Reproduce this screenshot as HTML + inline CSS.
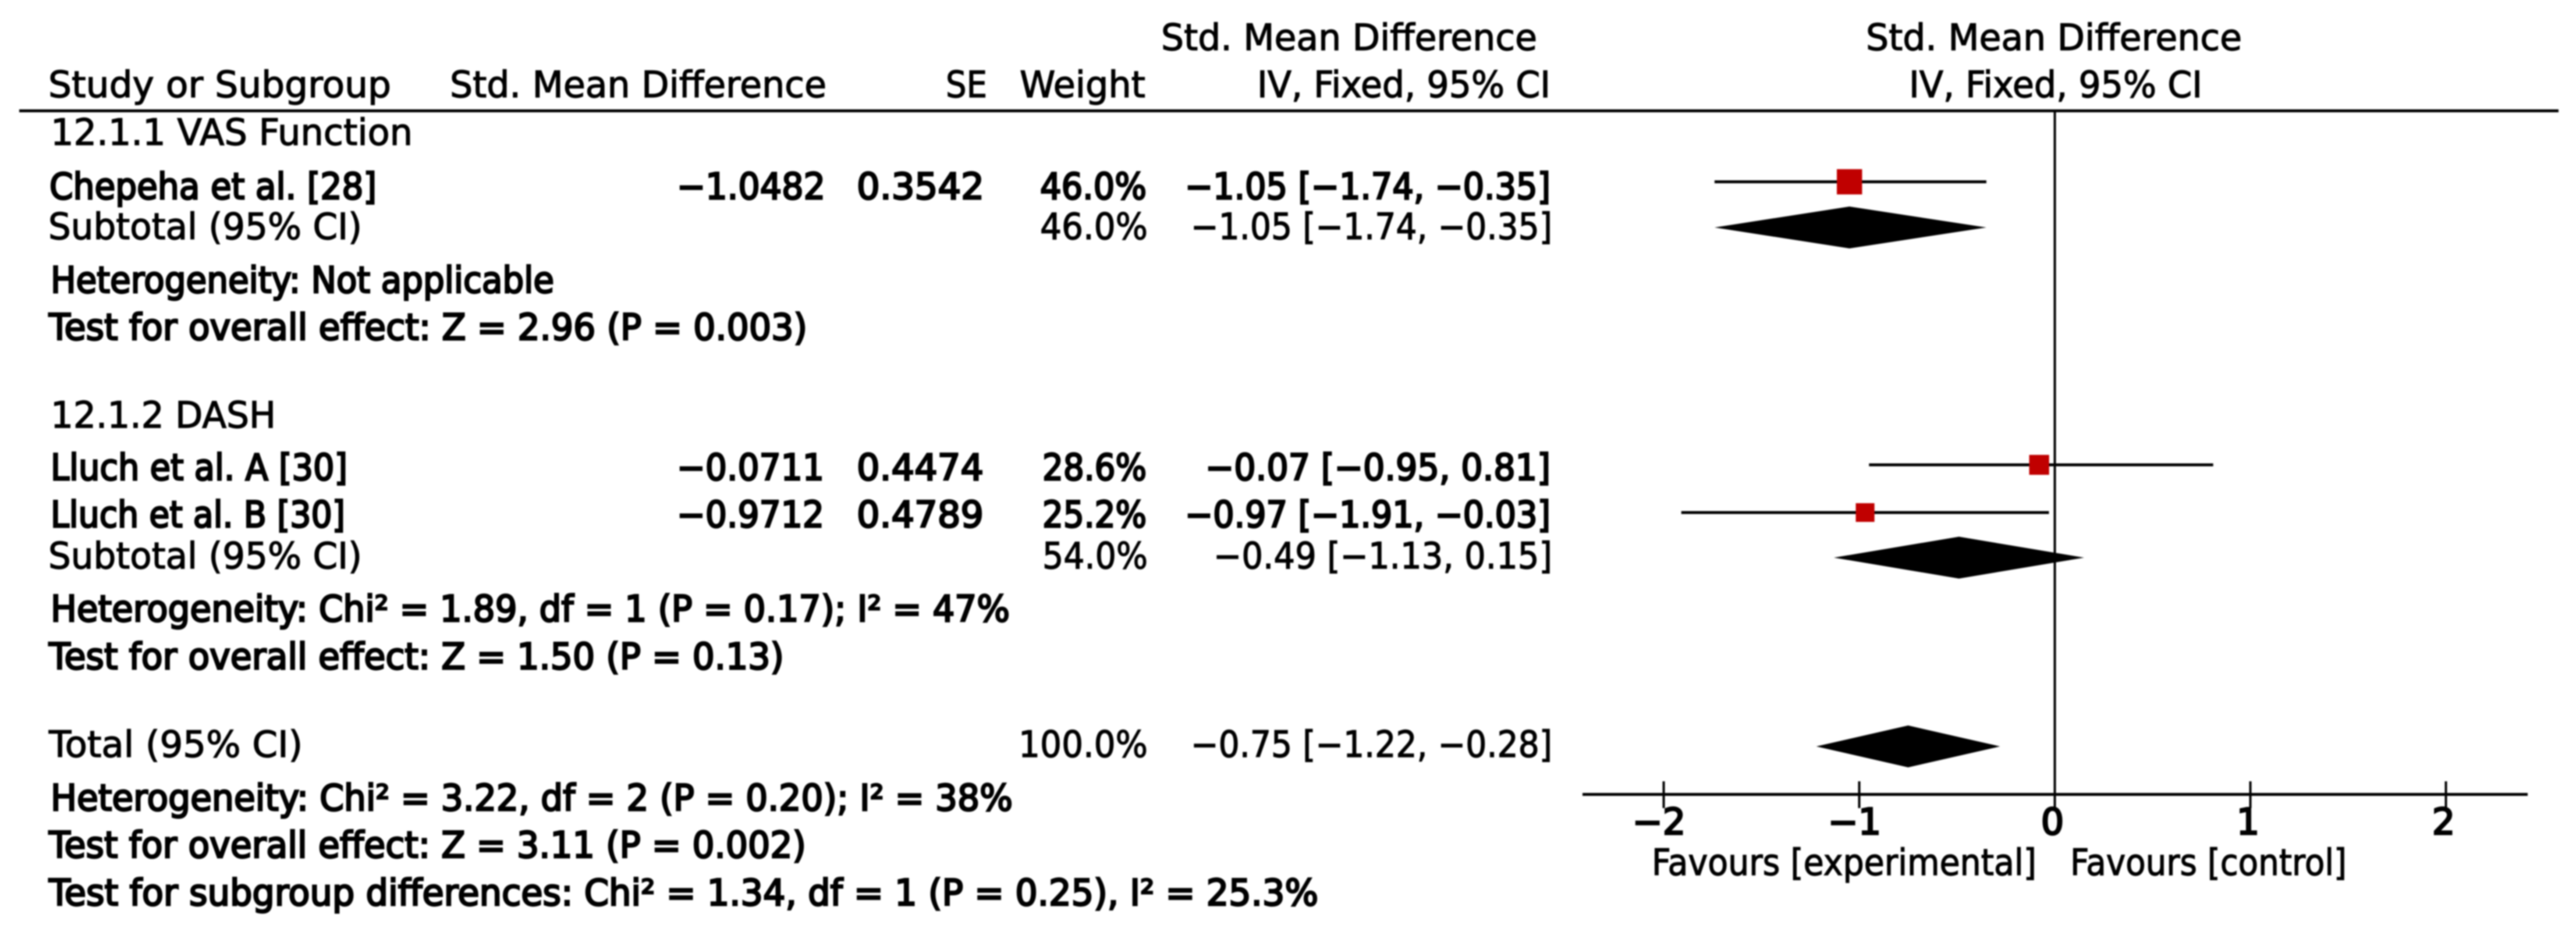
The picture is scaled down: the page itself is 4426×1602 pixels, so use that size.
<!DOCTYPE html>
<html lang="en">
<head>
<meta charset="utf-8">
<title>Forest plot</title>
<style>
html,body{margin:0;padding:0;background:#fff;width:4426px;height:1602px;overflow:hidden}
svg{display:block;filter:blur(1.4px)}
text{font-family:"DejaVu Sans","Liberation Sans",sans-serif;font-size:62px;fill:#000}
.r{stroke:#000;stroke-width:1.4px}
.b{stroke:#000;stroke-width:3px}
</style>
</head>
<body>
<svg id="forest" xmlns="http://www.w3.org/2000/svg" width="4426" height="1602" viewBox="0 0 4426 1602">
<rect x="0" y="0" width="4426" height="1602" fill="#fff"/>
<g class="r">
<text x="1995" y="86" textLength="646" lengthAdjust="spacingAndGlyphs">Std. Mean Difference</text>
<text x="3206" y="86" textLength="646" lengthAdjust="spacingAndGlyphs">Std. Mean Difference</text>
<text x="83" y="167" textLength="589" lengthAdjust="spacingAndGlyphs">Study or Subgroup</text>
<text x="773" y="167" textLength="647" lengthAdjust="spacingAndGlyphs">Std. Mean Difference</text>
<text x="1625" y="167" textLength="71" lengthAdjust="spacingAndGlyphs">SE</text>
<text x="1752" y="167" textLength="216" lengthAdjust="spacingAndGlyphs">Weight</text>
<text x="2160" y="167" textLength="504" lengthAdjust="spacingAndGlyphs">IV, Fixed, 95% CI</text>
<text x="3280" y="167" textLength="504" lengthAdjust="spacingAndGlyphs">IV, Fixed, 95% CI</text>
</g>
<rect x="33" y="188" width="4363" height="5" fill="#000"/>
<g>
<text class="r" x="87" y="249" textLength="622" lengthAdjust="spacingAndGlyphs">12.1.1 VAS Function</text>
<text class="b" x="85" y="342" textLength="562" lengthAdjust="spacingAndGlyphs">Chepeha et al. [28]</text>
<text class="b" x="1163" y="342" textLength="255" lengthAdjust="spacingAndGlyphs">−1.0482</text>
<text class="b" x="1472" y="342" textLength="219" lengthAdjust="spacingAndGlyphs">0.3542</text>
<text class="b" x="1787" y="342" textLength="183" lengthAdjust="spacingAndGlyphs">46.0%</text>
<text class="b" x="2036" y="342" textLength="628" lengthAdjust="spacingAndGlyphs">−1.05 [−1.74, −0.35]</text>
<text class="r" x="83" y="411" textLength="539" lengthAdjust="spacingAndGlyphs">Subtotal (95% CI)</text>
<text class="r" x="1787" y="411" textLength="185" lengthAdjust="spacingAndGlyphs">46.0%</text>
<text class="r" x="2046" y="411" textLength="621" lengthAdjust="spacingAndGlyphs">−1.05 [−1.74, −0.35]</text>
<text class="b" x="87" y="503" textLength="865" lengthAdjust="spacingAndGlyphs">Heterogeneity: Not applicable</text>
<text class="b" x="84" y="584" textLength="1303" lengthAdjust="spacingAndGlyphs">Test for overall effect: Z = 2.96 (P = 0.003)</text>
</g>
<g>
<text class="r" x="87" y="735" textLength="387" lengthAdjust="spacingAndGlyphs">12.1.2 DASH</text>
<text class="b" x="87" y="825" textLength="510" lengthAdjust="spacingAndGlyphs">Lluch et al. A [30]</text>
<text class="b" x="1163" y="825" textLength="253" lengthAdjust="spacingAndGlyphs">−0.0711</text>
<text class="b" x="1472" y="825" textLength="218" lengthAdjust="spacingAndGlyphs">0.4474</text>
<text class="b" x="1791" y="825" textLength="179" lengthAdjust="spacingAndGlyphs">28.6%</text>
<text class="b" x="2071" y="825" textLength="593" lengthAdjust="spacingAndGlyphs">−0.07 [−0.95, 0.81]</text>
<text class="b" x="87" y="906" textLength="506" lengthAdjust="spacingAndGlyphs">Lluch et al. B [30]</text>
<text class="b" x="1163" y="906" textLength="253" lengthAdjust="spacingAndGlyphs">−0.9712</text>
<text class="b" x="1472" y="906" textLength="218" lengthAdjust="spacingAndGlyphs">0.4789</text>
<text class="b" x="1791" y="906" textLength="179" lengthAdjust="spacingAndGlyphs">25.2%</text>
<text class="b" x="2036" y="906" textLength="628" lengthAdjust="spacingAndGlyphs">−0.97 [−1.91, −0.03]</text>
<text class="r" x="83" y="977" textLength="539" lengthAdjust="spacingAndGlyphs">Subtotal (95% CI)</text>
<text class="r" x="1791" y="977" textLength="181" lengthAdjust="spacingAndGlyphs">54.0%</text>
<text class="r" x="2085" y="977" textLength="582" lengthAdjust="spacingAndGlyphs">−0.49 [−1.13, 0.15]</text>
<text class="b" x="87" y="1068" textLength="1648" lengthAdjust="spacingAndGlyphs">Heterogeneity: Chi² = 1.89, df = 1 (P = 0.17); I² = 47%</text>
<text class="b" x="84" y="1150" textLength="1263" lengthAdjust="spacingAndGlyphs">Test for overall effect: Z = 1.50 (P = 0.13)</text>
</g>
<g>
<text class="r" x="84" y="1301" textLength="436" lengthAdjust="spacingAndGlyphs">Total (95% CI)</text>
<text class="r" x="1750" y="1301" textLength="222" lengthAdjust="spacingAndGlyphs">100.0%</text>
<text class="r" x="2046" y="1301" textLength="621" lengthAdjust="spacingAndGlyphs">−0.75 [−1.22, −0.28]</text>
<text class="b" x="87" y="1393" textLength="1653" lengthAdjust="spacingAndGlyphs">Heterogeneity: Chi² = 3.22, df = 2 (P = 0.20); I² = 38%</text>
<text class="b" x="84" y="1474" textLength="1301" lengthAdjust="spacingAndGlyphs">Test for overall effect: Z = 3.11 (P = 0.002)</text>
<text class="b" x="84" y="1556" textLength="2181" lengthAdjust="spacingAndGlyphs">Test for subgroup differences: Chi² = 1.34, df = 1 (P = 0.25), I² = 25.3%</text>
</g>
<text class="r" x="2838" y="1504" textLength="661" lengthAdjust="spacingAndGlyphs">Favours [experimental]</text>
<text class="r" x="3557" y="1504" textLength="475" lengthAdjust="spacingAndGlyphs">Favours [control]</text>
<g id="marks"></g>
</svg>
<script>
// Study estimates (standardised mean difference)
const studies = ["chepeha", "lluch-a", "lluch-b"];
const studyEst = [-1.05, -0.08, -0.97];
const studyLow = [-1.74, -0.95, -1.91];
const studyHigh = [-0.35, 0.81, -0.03];
const studyWeight = [46.0, 28.6, 25.2];
// Pooled estimates
const pooled = ["subtotal-vas", "subtotal-dash", "total"];
const pooledEst = [-1.05, -0.49, -0.75];
const pooledLow = [-1.74, -1.13, -1.22];
const pooledHigh = [-0.35, 0.15, -0.28];
// Axis
const tickValues = [-2, -1, 0, 1, 2];
const tickLabels = ["−2", "−1", "0", "1", "2"];

// Axis function and layout
const NS = "http://www.w3.org/2000/svg";
const marks = document.getElementById("marks");
const x0 = 3530.5, pxPerUnit = 336;
function xScale(v) { return x0 + v * pxPerUnit; }
const rowCenter = {
  "chepeha": 312.5,
  "lluch-a": 799,
  "lluch-b": 881,
  "subtotal-vas": 391,
  "subtotal-dash": 958.5,
  "total": 1283
};
const axisY = 1365.5, ruleY = 190;

function make(tag, attrs) {
  const el = document.createElementNS(NS, tag);
  for (const k in attrs) el.setAttribute(k, attrs[k]);
  marks.appendChild(el);
  return el;
}

// Axis line, null line, ticks
const axisLine = make("rect", { x: 2719, y: axisY - 2.5, width: 1624, height: 5, fill: "#000" });


const nullLine = make("rect", { x: xScale(0) - 2, y: ruleY, width: 4, height: axisY - ruleY + 24, fill: "#000" });



tickValues.forEach(function (v, i) {
  const t = make("rect", { x: xScale(v) - 2, y: 1343, width: 4, height: 46, fill: "#000" });
  
  
  const lab = make("text", { x: xScale(v) - (v < 0 ? 8 : 4), y: 1434, "text-anchor": "middle", class: "b" });
  lab.textContent = tickLabels[i];
  
  
});

// Study CI lines and weight squares
studies.forEach(function (s, i) {
  const cy = rowCenter[s];
  const ci = make("rect", {
    x: xScale(studyLow[i]), y: cy - 2.5,
    width: xScale(studyHigh[i]) - xScale(studyLow[i]), height: 5, fill: "#000"
  });
  
  
  const side = 6.4 * Math.sqrt(studyWeight[i]);
  const sq = make("rect", {
    x: xScale(studyEst[i]) - side / 2, y: cy - side / 2,
    width: side, height: side, fill: "#c00000"
  });
  
  
});

// Pooled diamonds
pooled.forEach(function (s, i) {
  const cy = rowCenter[s];
  const pts = [
    [xScale(pooledLow[i]), cy],
    [xScale(pooledEst[i]), cy - 36],
    [xScale(pooledHigh[i]), cy],
    [xScale(pooledEst[i]), cy + 36]
  ].map(function (p) { return p.join(","); }).join(" ");
  const d = make("polygon", { points: pts, fill: "#000" });
  
  
});
</script>
</body>
</html>
